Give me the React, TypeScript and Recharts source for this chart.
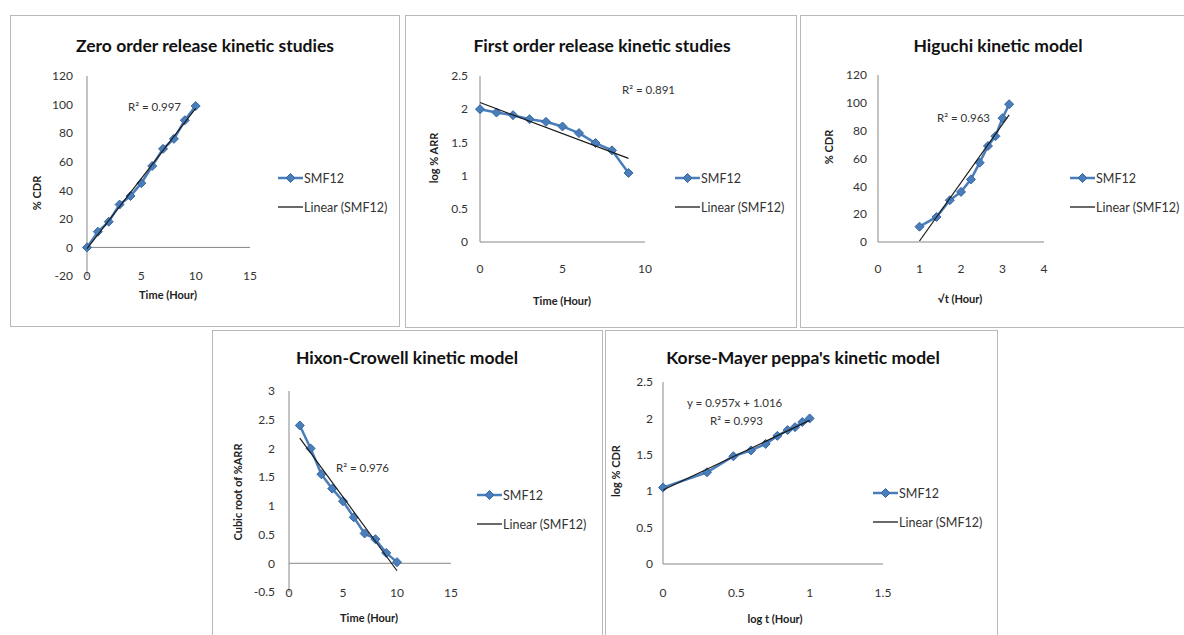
import React from 'react';
import { ScatterChart, Scatter, XAxis, YAxis, ReferenceLine, Legend } from 'recharts';

// values (formulation SMF12)
const zeroHours = [0, 1, 2, 3, 4, 5, 6, 7, 8, 9, 10];
const zeroCdr = [0, 11, 18, 30, 36, 45, 57, 69, 76, 89, 99];
const zeroTrendX = [0, 10];
const zeroTrendY = [-0.9, 97.3];

const firstHours = [0, 1, 2, 3, 4, 5, 6, 7, 8, 9];
const firstLogArr = [2, 1.95, 1.91, 1.85, 1.81, 1.74, 1.64, 1.49, 1.38, 1.04];
const firstTrendX = [0, 9];
const firstTrendY = [2.1, 1.26];

const higuchiRootT = [1, 1.41, 1.73, 2, 2.24, 2.45, 2.65, 2.83, 3, 3.16];
const higuchiCdr = [11, 18, 30, 36, 45, 57, 69, 76, 89, 99];
const higuchiTrendX = [1, 3.16];
const higuchiTrendY = [0.7, 91.4];

const hixsonHours = [1, 2, 3, 4, 5, 6, 7, 8, 9, 10];
const hixsonCubeRoot = [2.4, 2.0, 1.55, 1.3, 1.08, 0.8, 0.52, 0.42, 0.18, 0.02];
const hixsonTrendX = [1, 10];
const hixsonTrendY = [2.18, -0.13];

const peppasLogT = [0, 0.3, 0.48, 0.6, 0.7, 0.78, 0.85, 0.9, 0.95, 1];
const peppasLogCdr = [1.05, 1.26, 1.48, 1.56, 1.65, 1.76, 1.84, 1.88, 1.95, 2.0];
const peppasTrendX = [0, 1];
const peppasTrendY = [1.016, 1.973];

const BLUE = '#4A7EBB';
const FONT = 'Lato, "Open Sans", sans-serif';
const AXIS = '#878787';

const pts = (xs: number[], ys: number[]) => xs.map((x, i) => ({ x, y: ys[i] }));

const Diamond = (props: any) => {
  const { cx, cy } = props;
  if (cx == null || cy == null) return <g />;
  const r = 4.5;
  return (
    <path
      d={`M${cx},${cy - r}L${cx + r},${cy}L${cx},${cy + r}L${cx - r},${cy}Z`}
      fill={BLUE}
      stroke="#3566A3"
      strokeWidth={1}
    />
  );
};

const Nothing = () => <g />;

const isTrendName = (v: any) => String(v).startsWith('Linear');

const LegendBox = (props: any) => {
  const entries = [...(props.payload || [])].sort(
    (a: any, b: any) => Number(isTrendName(a.value)) - Number(isTrendName(b.value))
  );
  return (
    <div style={{ fontFamily: FONT, fontSize: 12.5, color: '#333' }}>
      {entries.map((entry: any, i: number) => {
        const isTrend = isTrendName(entry.value);
        return (
          <div key={i} style={{ display: 'flex', alignItems: 'center', height: 14, marginBottom: 15 }}>
            <svg width={25} height={10} style={{ marginRight: 1 }}>
              <line x1={0} y1={5} x2={25} y2={5} stroke={isTrend ? '#1a1a1a' : BLUE} strokeWidth={isTrend ? 1.3 : 2.5} />
              {!isTrend && <path d="M12.5,0.5L17,5L12.5,9.5L8,5Z" fill={BLUE} stroke="#3566A3" />}
            </svg>
            <span style={{ whiteSpace: 'nowrap' }}>{entry.value}</span>
          </div>
        );
      })}
    </div>
  );
};

type Note = { text: string; x: number; y: number };

type PanelProps = {
  box: { left: number; top: number; width: number; height: number };
  plot: { left: number; right: number; top: number; bottom: number };
  title: string;
  titleAt: [number, number];
  xTitle: string;
  xTitleAt: [number, number];
  yTitle: string;
  yTitleAt: [number, number];
  xDomain: [number, number];
  xTicks: number[];
  yDomain: [number, number];
  yTicks: number[];
  series: { x: number; y: number }[];
  trend: { x: number; y: number }[];
  zeroLine: boolean;
  xTickMargin: number;
  yTickMargin: number;
  legendAt: [number, number];
  notes: Note[];
};

const Y_W = 40;
const X_H = 30;

const Panel = (p: PanelProps) => {
  const { box, plot } = p;
  const margin = {
    top: plot.top - box.top,
    left: plot.left - box.left - Y_W,
    right: box.left + box.width - plot.right,
    bottom: box.top + box.height - plot.bottom - X_H,
  };
  const tickStyle = { fontSize: 12, fill: '#333', fontFamily: FONT };
  return (
    <>
      <div
        style={{
          position: 'absolute',
          left: box.left,
          top: box.top,
          width: box.width,
          height: box.height,
          border: '1.5px solid #b8b8b8',
          boxSizing: 'border-box',
        }}
      />
      <div style={{ position: 'absolute', left: box.left, top: box.top }}>
        <ScatterChart width={box.width} height={box.height} margin={margin}>
          <XAxis
            type="number"
            dataKey="x"
            domain={p.xDomain}
            ticks={p.xTicks}
            interval={0}
            height={X_H}
            tickLine={false}
            tickSize={0}
            tickMargin={p.xTickMargin}
            axisLine={p.zeroLine ? false : { stroke: AXIS }}
            tick={tickStyle}
          />
          <YAxis
            type="number"
            dataKey="y"
            domain={p.yDomain}
            ticks={p.yTicks}
            interval={0}
            width={Y_W}
            tickLine={false}
            tickSize={0}
            tickMargin={p.yTickMargin}
            axisLine={{ stroke: AXIS }}
            tick={tickStyle}
          />
          {p.zeroLine && <ReferenceLine y={0} stroke={AXIS} />}
          <Scatter
            name="SMF12"
            data={p.series}
            line={{ stroke: BLUE, strokeWidth: 2.5 }}
            shape={Diamond}
            isAnimationActive={false}
          />
          <Scatter
            name="Linear (SMF12)"
            data={p.trend}
            line={{ stroke: '#1a1a1a', strokeWidth: 1.2 }}
            shape={Nothing}
            isAnimationActive={false}
          />
          <Legend
            layout="horizontal"
            align="center"
            verticalAlign="middle"
            content={LegendBox}
            wrapperStyle={{
              left: p.legendAt[0] - box.left,
              top: p.legendAt[1] - box.top - 7,
              width: 130,
              height: 50,
            }}
          />
        </ScatterChart>
      </div>
      <div
        style={{
          position: 'absolute',
          left: p.titleAt[0],
          top: p.titleAt[1],
          transform: 'translate(-50%, -50%)',
          fontFamily: FONT,
          fontWeight: 700,
          fontSize: 17.5,
          whiteSpace: 'nowrap',
          color: '#111',
        }}
      >
        {p.title}
      </div>
      <div
        style={{
          position: 'absolute',
          left: p.xTitleAt[0],
          top: p.xTitleAt[1],
          transform: 'translate(-50%, -50%)',
          fontFamily: FONT,
          fontWeight: 700,
          fontSize: 11,
          whiteSpace: 'nowrap',
          color: '#222',
        }}
      >
        {p.xTitle}
      </div>
      <div
        style={{
          position: 'absolute',
          left: p.yTitleAt[0],
          top: p.yTitleAt[1],
          transform: 'translate(-50%, -50%) rotate(-90deg)',
          fontFamily: FONT,
          fontWeight: 700,
          fontSize: 11,
          whiteSpace: 'nowrap',
          color: '#222',
        }}
      >
        {p.yTitle}
      </div>
      {p.notes.map((n, i) => (
        <div
          key={i}
          style={{
            position: 'absolute',
            left: n.x,
            top: n.y,
            transform: 'translateY(-50%)',
            fontFamily: FONT,
            fontSize: 11.5,
            whiteSpace: 'nowrap',
            color: '#333',
          }}
        >
          {n.text}
        </div>
      ))}
    </>
  );
};

export default function App() {
  return (
    <div
      style={{
        position: 'absolute',
        left: 0,
        top: 0,
        width: 1184,
        height: 635,
        overflow: 'hidden',
        background: '#fff',
      }}
    >
      <Panel
        box={{ left: 10, top: 15, width: 390, height: 312 }}
        plot={{ left: 87, right: 250, top: 76, bottom: 276 }}
        title="Zero order release kinetic studies"
        titleAt={[205, 45]}
        xTitle="Time (Hour)"
        xTitleAt={[168, 294]}
        yTitle="% CDR"
        yTitleAt={[36, 193]}
        xDomain={[0, 15]}
        xTicks={[0, 5, 10, 15]}
        yDomain={[-20, 120]}
        yTicks={[-20, 0, 20, 40, 60, 80, 100, 120]}
        series={pts(zeroHours, zeroCdr)}
        trend={pts(zeroTrendX, zeroTrendY)}
        zeroLine
        xTickMargin={-5}
        yTickMargin={14}
        legendAt={[278, 178]}
        notes={[{ text: 'R² = 0.997', x: 128, y: 106 }]}
      />
      <Panel
        box={{ left: 405, top: 15, width: 392, height: 313 }}
        plot={{ left: 480, right: 645, top: 76, bottom: 242 }}
        title="First order release kinetic studies"
        titleAt={[602, 45]}
        xTitle="Time (Hour)"
        xTitleAt={[562, 300]}
        yTitle="log % ARR"
        yTitleAt={[433, 158]}
        xDomain={[0, 10]}
        xTicks={[0, 5, 10]}
        yDomain={[0, 2.5]}
        yTicks={[0, 0.5, 1, 1.5, 2, 2.5]}
        series={pts(firstHours, firstLogArr)}
        trend={pts(firstTrendX, firstTrendY)}
        zeroLine={false}
        xTickMargin={22}
        yTickMargin={12}
        legendAt={[675, 178]}
        notes={[{ text: 'R² = 0.891', x: 622, y: 89 }]}
      />
      <Panel
        box={{ left: 800, top: 15, width: 392, height: 313 }}
        plot={{ left: 878, right: 1044, top: 75, bottom: 242 }}
        title="Higuchi kinetic model"
        titleAt={[998, 45]}
        xTitle="√t (Hour)"
        xTitleAt={[960, 298]}
        yTitle="% CDR"
        yTitleAt={[828, 147]}
        xDomain={[0, 4]}
        xTicks={[0, 1, 2, 3, 4]}
        yDomain={[0, 120]}
        yTicks={[0, 20, 40, 60, 80, 100, 120]}
        series={pts(higuchiRootT, higuchiCdr)}
        trend={pts(higuchiTrendX, higuchiTrendY)}
        zeroLine={false}
        xTickMargin={22}
        yTickMargin={11}
        legendAt={[1070, 178]}
        notes={[{ text: 'R² = 0.963', x: 937, y: 117 }]}
      />
      <Panel
        box={{ left: 212, top: 330, width: 391, height: 310 }}
        plot={{ left: 289, right: 451, top: 391, bottom: 592 }}
        title="Hixon-Crowell kinetic model"
        titleAt={[407, 357]}
        xTitle="Time (Hour)"
        xTitleAt={[369, 617]}
        yTitle="Cubic root of %ARR"
        yTitleAt={[237, 492]}
        xDomain={[0, 15]}
        xTicks={[0, 5, 10, 15]}
        yDomain={[-0.5, 3]}
        yTicks={[-0.5, 0, 0.5, 1, 1.5, 2, 2.5, 3]}
        series={pts(hixsonHours, hixsonCubeRoot)}
        trend={pts(hixsonTrendX, hixsonTrendY)}
        zeroLine
        xTickMargin={-4}
        yTickMargin={14}
        legendAt={[477, 495]}
        notes={[{ text: 'R² = 0.976', x: 336, y: 467 }]}
      />
      <Panel
        box={{ left: 605, top: 330, width: 393, height: 310 }}
        plot={{ left: 663, right: 883, top: 382, bottom: 564 }}
        title="Korse-Mayer peppa's kinetic model"
        titleAt={[803, 357]}
        xTitle="log t (Hour)"
        xTitleAt={[775, 618]}
        yTitle="log % CDR"
        yTitleAt={[615, 471]}
        xDomain={[0, 1.5]}
        xTicks={[0, 0.5, 1, 1.5]}
        yDomain={[0, 2.5]}
        yTicks={[0, 0.5, 1, 1.5, 2, 2.5]}
        series={pts(peppasLogT, peppasLogCdr)}
        trend={pts(peppasTrendX, peppasTrendY)}
        zeroLine={false}
        xTickMargin={24}
        yTickMargin={10}
        legendAt={[873, 493]}
        notes={[
          { text: 'y = 0.957x + 1.016', x: 687, y: 402 },
          { text: 'R² = 0.993', x: 710, y: 420 },
        ]}
      />
    </div>
  );
}
